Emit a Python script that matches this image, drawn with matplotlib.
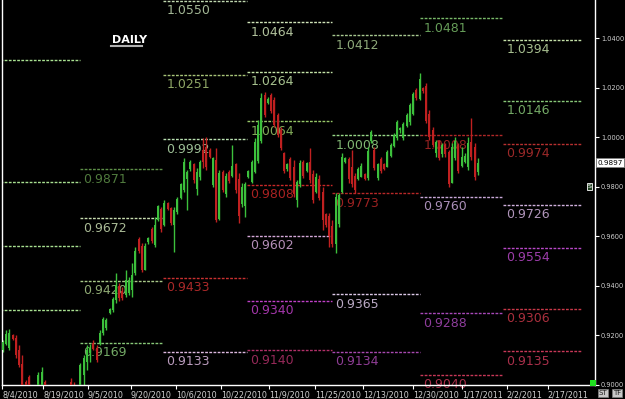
import matplotlib
matplotlib.use("Agg")
import matplotlib.pyplot as plt
from matplotlib.patches import Rectangle

# daily bars (open, high, low, close)
opens = [0.9140, 0.9165, 0.9150, 0.9200, 0.9190, 0.9140, 0.9085, 0.9010, 0.9030, 0.8975,
         0.8960, 0.8960, 0.8980, 0.9010, 0.8955, 0.8930, 0.8900, 0.8920, 0.8890, 0.8950,
         0.8920, 0.9010, 0.8990, 0.8960, 0.8975, 0.9040, 0.9090, 0.9130, 0.9170, 0.9150,
         0.9168, 0.9209, 0.9230, 0.9289, 0.9302, 0.9342, 0.9400, 0.9380, 0.9362, 0.9370,
         0.9382, 0.9451, 0.9590, 0.9560, 0.9465, 0.9577, 0.9630, 0.9565, 0.9665, 0.9710,
         0.9645, 0.9734, 0.9714, 0.9645, 0.9698, 0.9754, 0.9786, 0.9830, 0.9870, 0.9890,
         0.9790, 0.9840, 0.9948, 0.9960, 0.9948, 0.9805, 0.9908, 0.9670, 0.9860, 0.9770,
         0.9860, 0.9845, 0.9890, 0.9830, 0.9730, 0.9720, 0.9840, 0.9820, 0.9860, 0.9905,
         0.9985, 1.0170, 1.0140, 1.0170, 1.0150, 1.0090, 1.0030, 0.9935, 0.9870, 0.9910,
         0.9880, 0.9745, 0.9810, 0.9900, 0.9865, 0.9900, 0.9850, 0.9780, 0.9830, 0.9780,
         0.9690, 0.9680, 0.9640, 0.9570, 0.9650, 0.9780, 0.9900, 0.9910, 0.9880, 0.9845,
         0.9830, 0.9840, 0.9850, 0.9835, 0.9985, 0.9950, 0.9835, 0.9910, 0.9890, 0.9880,
         0.9925, 0.9965, 0.9995, 1.0030, 0.9995, 1.0045, 1.0060, 1.0095, 1.0190, 1.0155,
         1.0200, 1.0205, 1.0095, 1.0030, 0.9935, 0.9985, 0.9930, 0.9970, 0.9940, 0.9815,
         0.9915, 0.9970, 0.9885, 0.9900, 0.9880, 0.9980, 0.9960, 0.9860]
highs = [0.9180, 0.9221, 0.9225, 0.9205, 0.9200, 0.9160, 0.9120, 0.9019, 0.9039, 0.8995,
         0.8990, 0.9051, 0.9071, 0.9019, 0.8985, 0.8970, 0.8950, 0.8960, 0.8980, 0.8985,
         0.8975, 0.9027, 0.9011, 0.8990, 0.9087, 0.9120, 0.9160, 0.9165, 0.9180, 0.9160,
         0.9221, 0.9273, 0.9269, 0.9310, 0.9354, 0.9451, 0.9410, 0.9395, 0.9463, 0.9435,
         0.9491, 0.9556, 0.9597, 0.9572, 0.9572, 0.9597, 0.9637, 0.9677, 0.9726, 0.9718,
         0.9746, 0.9740, 0.9718, 0.9718, 0.9758, 0.9815, 0.9916, 0.9867, 0.9908, 0.9896,
         0.9875, 0.9908, 0.9996, 1.0001, 0.9955, 0.9920, 0.9956, 0.9867, 0.9867, 0.9855,
         0.9867, 0.9968, 0.9896, 0.9855, 0.9815, 0.9819, 0.9867, 0.9908, 0.9996, 1.0069,
         1.0178, 1.0182, 1.0162, 1.0178, 1.0162, 1.0097, 1.0041, 0.9940, 0.9896, 0.9920,
         0.9908, 0.9827, 0.9908, 0.9908, 0.9900, 0.9956, 0.9867, 0.9855, 0.9847, 0.9799,
         0.9693, 0.9693, 0.9665, 0.9774, 0.9774, 0.9936, 0.9920, 0.9920, 0.9948, 0.9855,
         0.9879, 0.9896, 0.9855, 0.9960, 1.0029, 0.9960, 0.9896, 0.9920, 0.9896, 0.9948,
         0.9976, 1.0017, 1.0069, 1.0041, 1.0061, 1.0097, 1.0138, 1.0182, 1.0198, 1.0259,
         1.0203, 1.0219, 1.0110, 1.0041, 0.9988, 0.9988, 0.9976, 0.9976, 0.9948, 0.9976,
         1.0001, 0.9976, 0.9960, 0.9936, 1.0001, 1.0077, 0.9976, 0.9916]
lows = [0.9132, 0.9160, 0.9140, 0.9180, 0.9108, 0.9071, 0.8960, 0.8940, 0.8950, 0.8930,
        0.8920, 0.8950, 0.8970, 0.8940, 0.8900, 0.8880, 0.8860, 0.8870, 0.8880, 0.8900,
        0.8890, 0.8950, 0.8940, 0.8930, 0.8960, 0.9000, 0.9059, 0.9090, 0.9140, 0.9092,
        0.9160, 0.9200, 0.9221, 0.9285, 0.9295, 0.9330, 0.9340, 0.9342, 0.9354, 0.9362,
        0.9354, 0.9445, 0.9532, 0.9455, 0.9463, 0.9570, 0.9572, 0.9556, 0.9660, 0.9617,
        0.9640, 0.9705, 0.9645, 0.9536, 0.9690, 0.9750, 0.9780, 0.9706, 0.9865, 0.9815,
        0.9766, 0.9827, 0.9875, 0.9867, 0.9915, 0.9799, 0.9657, 0.9665, 0.9778, 0.9758,
        0.9815, 0.9839, 0.9774, 0.9653, 0.9718, 0.9677, 0.9835, 0.9815, 0.9855, 0.9896,
        0.9976, 1.0081, 1.0135, 1.0097, 1.0041, 1.0001, 0.9948, 0.9855, 0.9865, 0.9827,
        0.9758, 0.9718, 0.9799, 0.9835, 0.9859, 0.9815, 0.9734, 0.9774, 0.9746, 0.9625,
        0.9637, 0.9556, 0.9556, 0.9532, 0.9637, 0.9774, 0.9894, 0.9815, 0.9799, 0.9774,
        0.9827, 0.9839, 0.9827, 0.9827, 0.9976, 0.9867, 0.9827, 0.9855, 0.9867, 0.9879,
        0.9920, 0.9960, 0.9988, 1.0017, 0.9988, 1.0041, 1.0049, 1.0089, 1.0150, 1.0150,
        1.0178, 1.0057, 0.9988, 0.9960, 0.9920, 0.9908, 0.9920, 0.9920, 0.9799, 0.9815,
        0.9908, 0.9855, 0.9879, 0.9896, 0.9867, 0.9908, 0.9827, 0.9847]
closes = [0.9172, 0.9205, 0.9210, 0.9185, 0.9120, 0.9080, 0.8990, 0.8960, 0.8975, 0.8960,
          0.8950, 0.9040, 0.9050, 0.8955, 0.8930, 0.8900, 0.8920, 0.8890, 0.8950, 0.8920,
          0.8960, 0.8970, 0.8960, 0.8980, 0.9080, 0.9110, 0.9140, 0.9150, 0.9145, 0.9100,
          0.9210, 0.9265, 0.9262, 0.9305, 0.9345, 0.9403, 0.9350, 0.9350, 0.9423, 0.9425,
          0.9443, 0.9540, 0.9540, 0.9465, 0.9560, 0.9592, 0.9580, 0.9645, 0.9720, 0.9630,
          0.9735, 0.9710, 0.9655, 0.9706, 0.9750, 0.9810, 0.9900, 0.9860, 0.9900, 0.9825,
          0.9860, 0.9900, 0.9900, 0.9880, 0.9920, 0.9915, 0.9665, 0.9855, 0.9785, 0.9845,
          0.9822, 0.9885, 0.9785, 0.9680, 0.9800, 0.9810, 0.9862, 0.9900, 0.9980, 1.0050,
          1.0160, 1.0090, 1.0155, 1.0105, 1.0050, 1.0010, 0.9955, 0.9865, 0.9890, 0.9835,
          0.9770, 0.9820, 0.9895, 0.9845, 0.9895, 0.9825, 0.9745, 0.9840, 0.9755, 0.9665,
          0.9645, 0.9600, 0.9570, 0.9760, 0.9765, 0.9920, 0.9915, 0.9830, 0.9810, 0.9785,
          0.9870, 0.9885, 0.9832, 0.9945, 1.0020, 0.9875, 0.9890, 0.9862, 0.9870, 0.9940,
          0.9970, 1.0010, 1.0060, 1.0038, 1.0055, 1.0090, 1.0130, 1.0175, 1.0158, 1.0235,
          1.0185, 1.0065, 1.0000, 0.9968, 0.9980, 0.9915, 0.9968, 0.9930, 0.9810, 0.9960,
          0.9985, 0.9865, 0.9920, 0.9925, 0.9975, 0.9920, 0.9840, 0.9897]

date_ticks = [-0.3, 12.4, 26.3, 39.6, 53.6, 67.5, 82.4, 96.6, 111.5, 126.9, 142.1, 156.0, 168.7]
date_labels = ["8/4/2010", "8/19/2010", "9/5/2010", "9/20/2010", "10/6/2010", "10/22/2010",
               "11/9/2010", "11/25/2010", "12/13/2010", "12/30/2010", "1/17/2011",
               "2/2/2011", "2/17/2011"]
price_ticks = [0.90, 0.92, 0.94, 0.96, 0.98, 1.00, 1.02, 1.04]

# monthly pivot levels, one block per month
month_edges = [-0.9, 23.8, 49.5, 75.5, 101.9, 129.1, 154.8, 178.9]
aug_levels = [1.0312, 0.9819, 0.9560, 0.9302]
sep_levels = [0.9871, 0.9672, 0.9420, 0.9169]
oct_levels = [1.0550, 1.0251, 0.9992, 0.9433, 0.9133]
nov_levels = [1.0464, 1.0264, 1.0064, 0.9808, 0.9602, 0.9340, 0.9140]
dec_levels = [1.0412, 1.0008, 0.9773, 0.9365, 0.9134]
jan_levels = [1.0481, 1.0008, 0.9760, 0.9288, 0.9040]
feb_levels = [1.0394, 1.0146, 0.9974, 0.9726, 0.9554, 0.9306, 0.9135]

aug_colors = ["#a8e090", "#a8e090", "#a8e090", "#a8e090"]
sep_colors = ["#5e9048", "#c8dcb0", "#a8c888", "#88c878"]
oct_colors = ["#c0d8b0", "#a8c478", "#b8e0b0", "#c83030", "#dcb8e0"]
nov_colors = ["#d0e4b8", "#c4e4a8", "#98c868", "#c82828", "#d4a8d8", "#c040c8", "#b03068"]
dec_colors = ["#a8c890", "#98d888", "#b82828", "#dcc8e8", "#a848b0"]
jan_colors = ["#78b868", "#b02828", "#c8a8d8", "#a848b8", "#c83858"]
feb_colors = ["#c4e0a8", "#88c878", "#b83030", "#d0b0dc", "#b848c8", "#c83848", "#c83858"]

months = [aug_levels, sep_levels, oct_levels, nov_levels, dec_levels, jan_levels, feb_levels]
month_colors = [aug_colors, sep_colors, oct_colors, nov_colors, dec_colors, jan_colors, feb_colors]

fig = plt.figure(figsize=(6.25, 3.99), dpi=100, facecolor="black")
ax = fig.add_axes([2 / 625, 14 / 399, 593 / 625, 385 / 399])
ax.set_facecolor("black")

for m, (levels, colors) in enumerate(zip(months, month_colors)):
    x0, x1 = month_edges[m], month_edges[m + 1]
    for v, c in zip(levels, colors):
        ax.hlines(v, x0, x1, colors=c, linestyles=(0, (2, 1)), lw=1.0, zorder=1)
        if m > 0:
            t = ax.annotate(f"{v:.4f}", xy=(x0, v), xytext=(2.5, -2.5),
                            textcoords="offset points", ha="left", va="top",
                            fontsize=9, color=c, alpha=0.85, zorder=1,
                            annotation_clip=False)
            t.set_clip_on(True)

xs = list(range(len(closes)))
up = [c >= o for o, c in zip(opens, closes)]
colors = ["#3cc03c" if u else "#c02020" for u in up]
ax.vlines(xs, lows, highs, colors=colors, lw=1.0, zorder=2)
bottoms = [min(o, c) for o, c in zip(opens, closes)]
heights = [max(abs(c - o), 0.0004) for o, c in zip(opens, closes)]
ax.bar(xs, heights, bottom=bottoms, width=0.62, color=colors, zorder=3)

ax.set_xlim(-0.3, 183.3)
ax.set_ylim(0.8999, 1.0554)

for s in ["left", "right", "bottom"]:
    ax.spines[s].set_color("white")
    ax.spines[s].set_linewidth(1.0)
ax.spines["top"].set_visible(False)

ax.yaxis.tick_right()
ax.set_yticks(price_ticks)
ax.set_yticklabels([f"{p:.4f}" for p in price_ticks])
ax.tick_params(axis="y", colors="white", labelcolor="#d0d0d0", labelsize=4.8,
               length=3, pad=1.2, width=0.8)
ax.set_xticks(date_ticks)
ax.set_xticklabels(date_labels, ha="left")
ax.tick_params(axis="x", colors="white", labelcolor="#d0d0d0", labelsize=5.8,
               length=3, pad=1, width=0.8)

# current price box
ax.annotate(f"{closes[-1]:.4f}", xy=(1.004, closes[-1]), xycoords=("axes fraction", "data"),
            ha="left", va="center", fontsize=5.2, color="black", annotation_clip=False,
            bbox=dict(boxstyle="square,pad=0.2", facecolor="white", edgecolor="#808080", lw=0.6))
ax.annotate("S", xy=(0.991, 0.98), xycoords=("axes fraction", "data"), ha="center", va="center",
            fontsize=4.5, color="white", annotation_clip=False,
            bbox=dict(boxstyle="square,pad=0.12", facecolor="#204020", edgecolor="white", lw=0.6))

fig.text(112 / 625, 1 - 40 / 399, "DAILY", color="white", fontsize=8, fontweight="bold",
         ha="left", va="center")
fig.add_artist(plt.Line2D([111 / 625, 142 / 625], [1 - 46 / 399, 1 - 46 / 399],
                          color="#b0b0b0", lw=1.5, transform=fig.transFigure))
fig.add_artist(Rectangle((590 / 625, 13 / 399), 6 / 625, 6 / 399, facecolor="#20e020",
                         transform=fig.transFigure))
fig.text(603 / 625, 6 / 399, "ST", color="#202020", fontsize=5, ha="center", va="center",
         bbox=dict(boxstyle="square,pad=0.08", facecolor="#c8c8c8", edgecolor="#808080", lw=0.5))
fig.text(617 / 625, 6 / 399, "TF", color="#202020", fontsize=5, ha="center", va="center",
         bbox=dict(boxstyle="square,pad=0.08", facecolor="#c8c8c8", edgecolor="#808080", lw=0.5))

fig.savefig("out.png", dpi=100, facecolor="black")
